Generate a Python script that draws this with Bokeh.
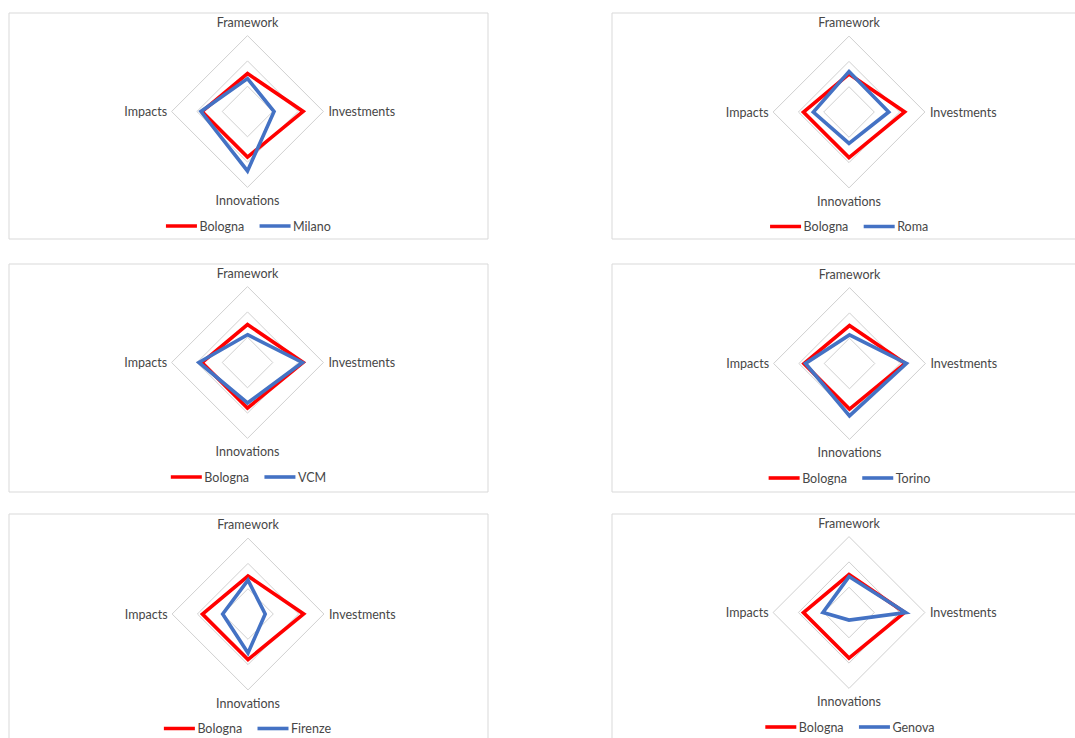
import numpy as np
from bokeh.plotting import figure
from bokeh.models import Range1d
from bokeh.core.properties import value
from bokeh.embed import file_html
from bokeh.resources import INLINE

# ---- data -------------------------------------------------------------
dimensions = ["Framework", "Investments", "Innovations", "Impacts"]
ring_levels = [1, 2, 3]

reference_city = "Bologna"
bologna = [1.50, 2.20, 1.80, 1.80]

cities = ["Milano", "Roma", "VCM", "Torino", "Firenze", "Genova"]
milano = [1.30, 1.05, 2.35, 1.84]
roma = [1.60, 1.57, 1.24, 1.41]
vcm = [1.10, 2.17, 1.60, 1.92]
torino = [1.13, 2.25, 2.07, 1.74]
firenze = [1.34, 0.68, 1.54, 1.00]
genova = [1.42, 2.24, 0.30, 1.03]
city_values = [milano, roma, vcm, torino, firenze, genova]

# ---- layout -----------------------------------------------------------
W, H = 1075, 738
UNIT = 25.3                      # pixels per scale unit
FONT = value("Lato")
FONT_SIZE = 12.5
TEXT_COLOR = "#474747"
GRID_COLOR = "#d0d0d0"
FRAME_COLOR = "#d9d9d9"
RED = "#ff0000"
BLUE = "#4472c4"

# panel frames (left, top, right, bottom) and radar centres, in page pixels
frames = [
    (8.5, 12.5, 487.5, 238.5), (611.5, 12.5, 1100, 238.5),
    (8.5, 263.5, 487.5, 491.5), (611.5, 263.5, 1100, 491.5),
    (8.5, 513.5, 487.5, 760), (611.5, 513.5, 1100, 760),
]
centres = [(247, 111), (848.5, 111.5), (247, 362), (849, 363),
           (247.5, 613.5), (848.5, 612)]


def text_width(s, size):
    w = 0.0
    for ch in s:
        if ch in "il":
            w += 0.23
        elif ch in "rtf":
            w += 0.36
        elif ch in "mw":
            w += 0.80
        elif ch in "MW":
            w += 0.86
        elif ch.isupper():
            w += 0.62
        else:
            w += 0.52
    return w * size


# spoke angles: Framework at top, then clockwise
angles = np.pi / 2 - np.arange(len(dimensions)) * np.pi / 2


def polar(vals):
    v = np.asarray(vals, dtype=float)
    return list(v * np.cos(angles)), list(v * np.sin(angles))


p = figure(width=W, height=H, x_range=Range1d(0, W), y_range=Range1d(H, 0),
           x_axis_type=None, y_axis_type=None, output_backend="svg",
           toolbar_location=None, min_border=0, outline_line_color=None)
p.background_fill_color = "white"
p.border_fill_color = "white"

# panel frames
p.quad(left=[f[0] for f in frames], right=[f[2] for f in frames],
       top=[f[1] for f in frames], bottom=[f[3] for f in frames],
       fill_color=None, line_color=FRAME_COLOR, line_width=1)

rmax = max(ring_levels)

for i, (city, vals) in enumerate(zip(cities, city_values)):
    cx, cy = centres[i]
    xr, yr = f"rx{i}", f"ry{i}"
    p.extra_x_ranges[xr] = Range1d(-cx / UNIT, (W - cx) / UNIT)
    p.extra_y_ranges[yr] = Range1d((cy - H) / UNIT, cy / UNIT)

    # grid rings
    for lvl in ring_levels:
        gx, gy = polar([lvl] * len(dimensions))
        p.patch(gx, gy, fill_color=None, line_color=GRID_COLOR, line_width=1,
                line_join="miter", x_range_name=xr, y_range_name=yr)

    # series
    for series, color in ((bologna, RED), (vals, BLUE)):
        sx, sy = polar(series)
        p.patch(sx, sy, fill_color=None, line_color=color, line_width=3.6,
                line_join="miter", x_range_name=xr, y_range_name=yr)

    # category labels
    lx, ly = polar([rmax] * len(dimensions))
    p.text(x=[lx[0], lx[2]], y=[ly[0], ly[2]],
           text=[dimensions[0], dimensions[2]], y_offset=[-13.5, 13.5],
           text_align="center", text_baseline="middle", text_font=FONT,
           text_font_size=f"{FONT_SIZE}px", text_color=TEXT_COLOR,
           x_range_name=xr, y_range_name=yr)
    p.text(x=[lx[1]], y=[ly[1]], text=[dimensions[1]], x_offset=5,
           text_align="left", text_baseline="middle", text_font=FONT,
           text_font_size=f"{FONT_SIZE}px", text_color=TEXT_COLOR,
           x_range_name=xr, y_range_name=yr)
    p.text(x=[lx[3]], y=[ly[3]], text=[dimensions[3]], x_offset=-4.5,
           text_align="right", text_baseline="middle", text_font=FONT,
           text_font_size=f"{FONT_SIZE}px", text_color=TEXT_COLOR,
           x_range_name=xr, y_range_name=yr)

    # legend, centred under the radar
    glyph_w, gap, between = 31, 2.5, 17
    wb = text_width(reference_city, FONT_SIZE)
    wc = text_width(city, FONT_SIZE)
    total = glyph_w + gap + wb + between + glyph_w + gap + wc
    ly_px = cy + 114.5
    s = cx - total / 2
    s2 = s + glyph_w + gap + wb + between
    p.segment(x0=[s, s2], y0=[ly_px, ly_px], x1=[s + glyph_w, s2 + glyph_w],
              y1=[ly_px, ly_px], line_color=[RED, BLUE], line_width=3.6)
    p.text(x=[s + glyph_w + gap, s2 + glyph_w + gap], y=[ly_px, ly_px],
           text=[reference_city, city], text_align="left",
           text_baseline="middle", text_font=FONT,
           text_font_size=f"{FONT_SIZE}px", text_color=TEXT_COLOR)

open("out.html", "w").write(file_html(p, INLINE))
